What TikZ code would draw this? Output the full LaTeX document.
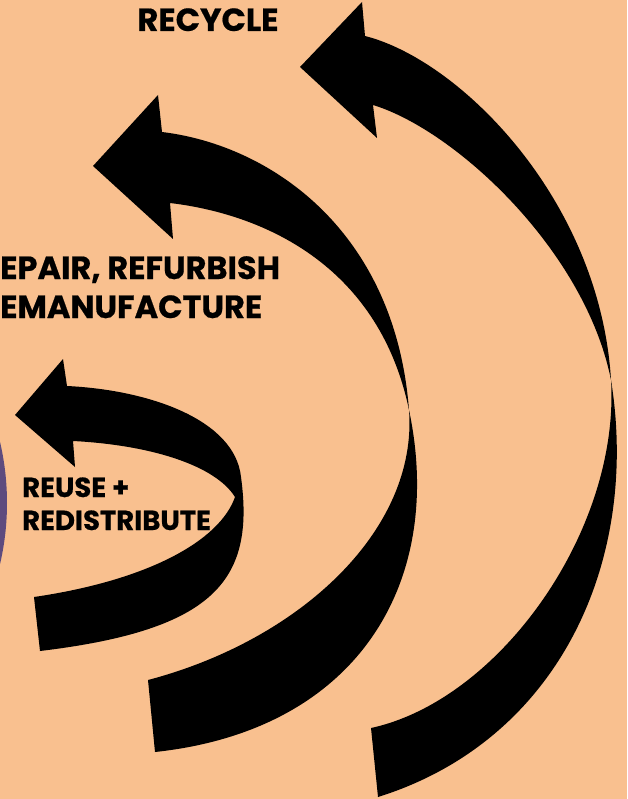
\documentclass[tikz,border=0pt]{standalone}
\usepackage{fontspec}
\newfontfamily\lblfont{Poppins}[BoldFeatures={FakeBold=0.6}]
\definecolor{peach}{HTML}{F9C08F}
\definecolor{hubpurple}{HTML}{5E4B7E}
\begin{document}
\begin{tikzpicture}[x=1pt,y=-1pt,
  ribbon/.style={fill=black},
  looplabel/.style={font=\lblfont\bfseries\fontsize{27.5}{33}\selectfont, inner sep=0pt, align=left, text=black},
  biglabel/.style={font=\lblfont\bfseries\fontsize{32}{39}\selectfont, inner sep=0pt, align=left, text=black}]
  % canvas
  \fill[peach] (0,0) rectangle (627,799);
  \useasboundingbox (0,0) rectangle (627,799);
  \begin{scope}
    \clip (0,0) rectangle (627,799);
    % central hub, mostly outside the frame
    \fill[hubpurple] (-262,503) circle (269);

    % outer loop: recycle (twisted ribbon arrow, edges cross at the twist)
    \fill[ribbon] (362,2) -- (300,67) -- (377,138) -- (373,105)
      .. controls (455,130) and (585,250) .. (611,380)
      .. controls (640,560) and (560,740) .. (378,797)
      -- (371,728)
      .. controls (500,700) and (620,530) .. (611,380)
      .. controls (600,200) and (460,60) .. (365,36)
      -- cycle;

    % middle loop: repair, refurbish, remanufacture
    \fill[ribbon] (158,95) -- (93,166) -- (173,239) -- (170,203)
      .. controls (270,215) and (380,270) .. (409,410)
      .. controls (445,580) and (360,730) .. (155,752)
      -- (148,680)
      .. controls (300,640) and (418,530) .. (409,410)
      .. controls (395,230) and (270,145) .. (162,132)
      -- cycle;

    % inner loop: reuse + redistribute
    \fill[ribbon] (63,359) -- (15,415) -- (75,467) -- (73,441)
      .. controls (150,445) and (215,465) .. (235,497)
      .. controls (220,540) and (150,580) .. (34,597)
      -- (40,651)
      .. controls (215,630) and (255,580) .. (241,477)
      .. controls (235,420) and (150,390) .. (67,386)
      -- cycle;
  \end{scope}

  % labels
  \node[biglabel, anchor=base] (recycle) at (208,31) {RECYCLE};
  \node[biglabel, anchor=base west] (repair) at (0,318) {EPAIR, REFURBISH\\EMANUFACTURE};
  \node[looplabel, anchor=base west] (reuse) at (22,530) {REUSE +\\REDISTRIBUTE};
\end{tikzpicture}
\end{document}
